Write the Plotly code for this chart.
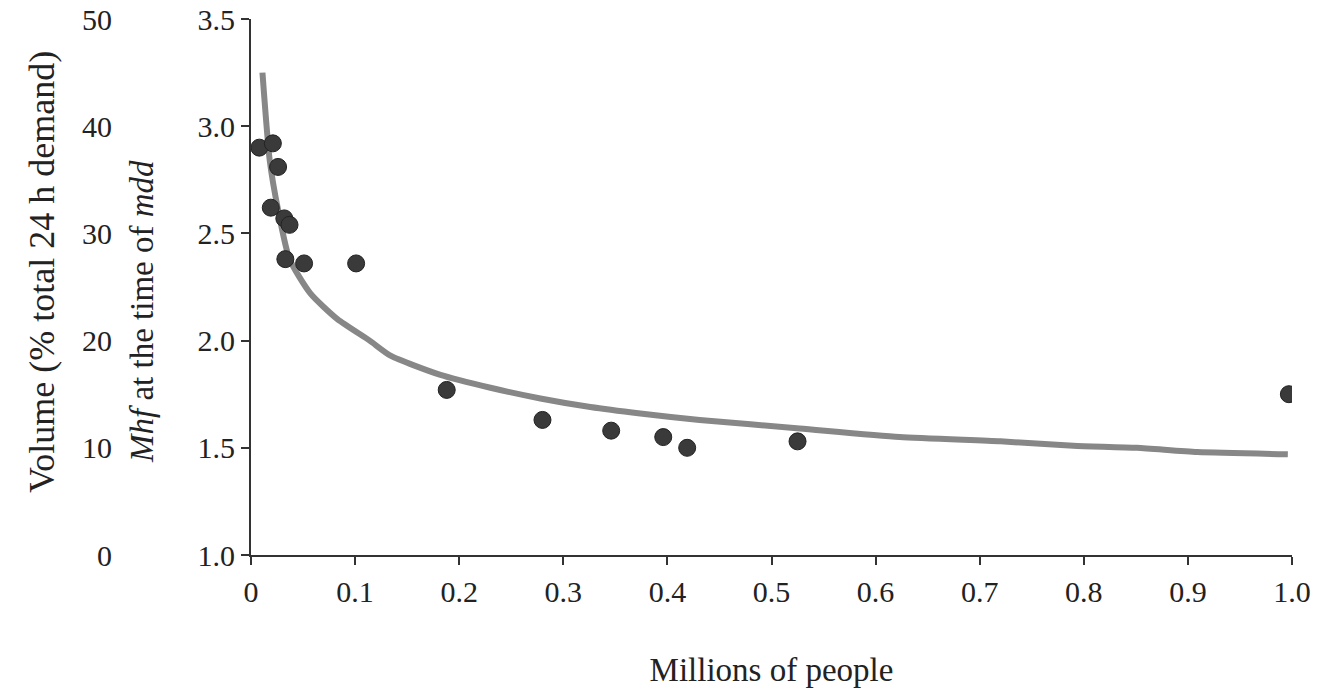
import plotly.graph_objects as go

# Observed points (population in millions, Mhf)
pop_millions = [0.008, 0.021, 0.026, 0.019, 0.032, 0.037, 0.033, 0.051, 0.101,
                0.188, 0.280, 0.346, 0.396, 0.419, 0.525, 0.997]
mhf_values = [2.90, 2.92, 2.81, 2.62, 2.57, 2.54, 2.38, 2.36, 2.36,
              1.77, 1.63, 1.58, 1.55, 1.50, 1.53, 1.75]

# Fitted trend line
trend_x = [0.011, 0.018, 0.026, 0.037, 0.057, 0.083, 0.114, 0.134, 0.182, 0.230,
           0.278, 0.326, 0.374, 0.431, 0.527, 0.623, 0.720, 0.790, 0.851, 0.909, 0.996]
trend_y = [3.25, 2.84, 2.61, 2.38, 2.22, 2.10, 2.00, 1.93, 1.84, 1.78,
           1.73, 1.69, 1.66, 1.63, 1.59, 1.55, 1.53, 1.51, 1.50, 1.48, 1.47]

x_ticks = [0.0, 0.1, 0.2, 0.3, 0.4, 0.5, 0.6, 0.7, 0.8, 0.9, 1.0]
x_ticklabels = ["0", "0.1", "0.2", "0.3", "0.4", "0.5", "0.6", "0.7", "0.8", "0.9", "1.0"]
mhf_ticks = [1.0, 1.5, 2.0, 2.5, 3.0, 3.5]
vol_ticks = [0, 10, 20, 30, 40, 50]

FONT = "Liberation Serif"
AXC = "#333333"

fig = go.Figure()
fig.add_trace(go.Scatter(x=trend_x, y=trend_y, mode="lines",
                         line=dict(color="#878787", width=6, shape="spline", smoothing=0.6),
                         hoverinfo="skip", showlegend=False))
fig.add_trace(go.Scatter(x=pop_millions, y=mhf_values, mode="markers",
                         marker=dict(size=17, color="#3a3a3a",
                                     line=dict(color="#222222", width=1)),
                         showlegend=False))
# invisible trace to activate the secondary (volume) axis
fig.add_trace(go.Scatter(x=[None], y=[None], yaxis="y2", showlegend=False))

W, H = 1337, 690
ml, mr, mt, mb = 20, 45, 19, 135
pw = W - ml - mr
ph = H - mt - mb
x_start = (251 - ml) / pw

fig.update_layout(
    width=W, height=H,
    margin=dict(l=ml, r=mr, t=mt, b=mb, autoexpand=False),
    paper_bgcolor="white", plot_bgcolor="white",
    font=dict(family=FONT, size=30, color="#222222"),
    xaxis=dict(domain=[x_start, 1], range=[0, 1], tickvals=x_ticks, ticktext=x_ticklabels,
               showline=True, linecolor=AXC, linewidth=2, ticks="outside", ticklen=8,
               tickwidth=2, tickcolor=AXC, showgrid=False, zeroline=False,
               ticklabelstandoff=1, automargin=False, ticklabeloverflow="allow",
               title=dict(text="Millions of people", font=dict(size=33), standoff=51)),
    yaxis=dict(range=[1, 3.5], tickvals=mhf_ticks, tickformat=".1f", automargin=False,
               showline=True, linecolor=AXC, linewidth=2, ticks="outside", ticklen=8,
               tickwidth=2, tickcolor=AXC, showgrid=False, zeroline=False,
               ticklabeloverflow="allow"),
    yaxis2=dict(range=[0, 50], tickvals=vol_ticks, overlaying="y", anchor="free",
                position=(112 - ml) / pw, side="left", showline=False, ticks="",
                showgrid=False, zeroline=False, automargin=False,
                ticklabeloverflow="allow"),
    annotations=[
        dict(text="<i>Mhf</i> at the time of <i>mdd</i>", textangle=-90,
             xref="paper", yref="paper", x=(142 - ml) / pw, y=(555 - 312) / ph,
             xanchor="center", yanchor="middle", showarrow=False, font=dict(size=33)),
        dict(text="Volume (% total 24 h demand)", textangle=-90,
             xref="paper", yref="paper", x=(42 - ml) / pw, y=(555 - 272) / ph,
             xanchor="center", yanchor="middle", showarrow=False, font=dict(size=36)),
    ],
)

# remove the default 8px page margin so the figure sits at the window's corner
fig.write_html("out.html", config={"displayModeBar": False},
               post_script="document.body.style.margin='0px';")
